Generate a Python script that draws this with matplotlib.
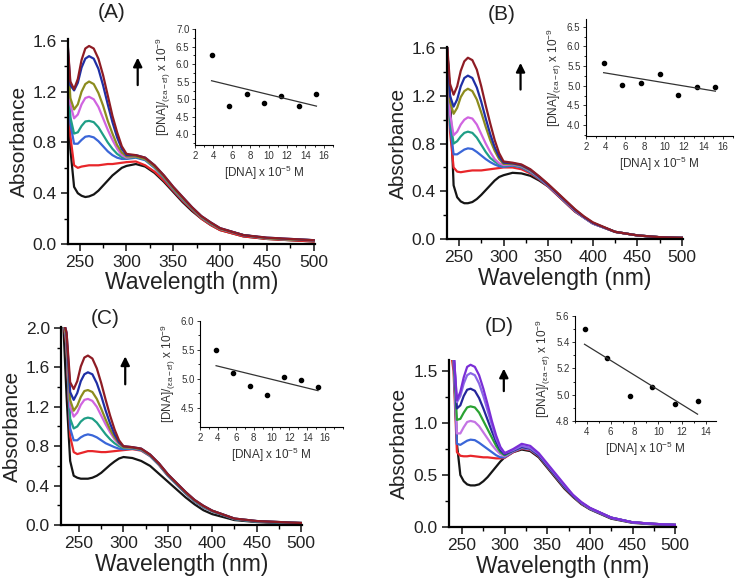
import numpy as np
import matplotlib
matplotlib.use('Agg')
import matplotlib.pyplot as plt
from matplotlib.ticker import MultipleLocator, FormatStrFormatter

plt.rcParams['font.family'] = ['Liberation Sans', 'DejaVu Sans']
plt.rcParams['mathtext.fontset'] = 'custom'
plt.rcParams['mathtext.rm'] = 'Liberation Sans'
plt.rcParams['mathtext.it'] = 'Liberation Sans:italic'

# wavelength grid (nm) used for all spectra
wl = [232, 236, 240, 244, 248, 252, 256, 260, 265, 270, 275, 280, 285, 290, 295,
      300, 310, 320, 330, 340, 350, 360, 370, 380, 390, 400, 425, 450, 475, 500]

# spectra, lowest curve (free complex) first
abs_A = [
    [1.8, 1.7, 0.75, 0.45, 0.40, 0.38, 0.37, 0.375, 0.39, 0.42, 0.46, 0.50, 0.54, 0.57, 0.60, 0.615, 0.63, 0.61, 0.56, 0.49, 0.41, 0.33, 0.26, 0.20, 0.15, 0.11, 0.06, 0.04, 0.03, 0.02],
    [1.8, 1.7, 0.85, 0.62, 0.60, 0.61, 0.615, 0.62, 0.62, 0.62, 0.625, 0.63, 0.63, 0.635, 0.64, 0.645, 0.65, 0.62, 0.57, 0.50, 0.42, 0.34, 0.27, 0.20, 0.15, 0.11, 0.06, 0.04, 0.03, 0.02],
    [1.8, 1.7, 0.95, 0.79, 0.79, 0.82, 0.845, 0.85, 0.84, 0.81, 0.77, 0.73, 0.70, 0.68, 0.67, 0.67, 0.68, 0.66, 0.60, 0.52, 0.43, 0.35, 0.28, 0.21, 0.16, 0.12, 0.07, 0.045, 0.035, 0.03],
    [1.8, 1.7, 1.0, 0.87, 0.88, 0.93, 0.965, 0.97, 0.96, 0.92, 0.86, 0.80, 0.75, 0.71, 0.685, 0.675, 0.685, 0.665, 0.605, 0.525, 0.435, 0.355, 0.28, 0.21, 0.16, 0.12, 0.07, 0.045, 0.035, 0.03],
    [1.8, 1.7, 1.1, 0.99, 1.02, 1.10, 1.15, 1.16, 1.14, 1.08, 0.99, 0.90, 0.82, 0.75, 0.70, 0.68, 0.69, 0.67, 0.61, 0.53, 0.44, 0.36, 0.285, 0.215, 0.165, 0.12, 0.07, 0.045, 0.035, 0.03],
    [1.8, 1.7, 1.15, 1.06, 1.10, 1.20, 1.26, 1.28, 1.26, 1.19, 1.09, 0.97, 0.87, 0.78, 0.72, 0.69, 0.69, 0.67, 0.61, 0.53, 0.44, 0.36, 0.285, 0.215, 0.165, 0.12, 0.07, 0.045, 0.035, 0.03],
    [1.8, 1.7, 1.25, 1.21, 1.27, 1.39, 1.46, 1.48, 1.46, 1.38, 1.25, 1.10, 0.96, 0.84, 0.75, 0.70, 0.70, 0.68, 0.62, 0.54, 0.45, 0.37, 0.29, 0.22, 0.17, 0.125, 0.07, 0.05, 0.04, 0.03],
    [1.8, 1.7, 1.28, 1.22, 1.30, 1.45, 1.54, 1.56, 1.54, 1.46, 1.33, 1.17, 1.01, 0.88, 0.77, 0.71, 0.70, 0.68, 0.62, 0.54, 0.45, 0.37, 0.29, 0.22, 0.17, 0.125, 0.07, 0.05, 0.04, 0.03],
]
abs_B = [
    [1.8, 1.7, 1.2, 0.45, 0.35, 0.315, 0.30, 0.30, 0.31, 0.335, 0.37, 0.41, 0.45, 0.49, 0.52, 0.535, 0.555, 0.55, 0.53, 0.49, 0.44, 0.37, 0.30, 0.23, 0.18, 0.13, 0.06, 0.03, 0.015, 0.01],
    [1.8, 1.7, 0.9, 0.60, 0.565, 0.56, 0.565, 0.57, 0.575, 0.575, 0.575, 0.58, 0.585, 0.59, 0.595, 0.60, 0.60, 0.585, 0.55, 0.50, 0.44, 0.37, 0.30, 0.23, 0.18, 0.13, 0.06, 0.03, 0.015, 0.01],
    [1.8, 1.7, 0.95, 0.71, 0.71, 0.73, 0.75, 0.76, 0.755, 0.73, 0.70, 0.67, 0.645, 0.625, 0.61, 0.605, 0.615, 0.60, 0.56, 0.505, 0.445, 0.375, 0.305, 0.235, 0.18, 0.13, 0.06, 0.03, 0.015, 0.01],
    [1.8, 1.7, 1.0, 0.80, 0.82, 0.86, 0.89, 0.90, 0.89, 0.85, 0.79, 0.73, 0.68, 0.65, 0.625, 0.615, 0.62, 0.605, 0.565, 0.51, 0.45, 0.38, 0.31, 0.24, 0.18, 0.13, 0.06, 0.03, 0.015, 0.01],
    [1.8, 1.7, 1.05, 0.87, 0.90, 0.96, 1.00, 1.02, 1.01, 0.96, 0.88, 0.80, 0.73, 0.67, 0.635, 0.62, 0.625, 0.61, 0.57, 0.515, 0.45, 0.38, 0.31, 0.24, 0.18, 0.13, 0.06, 0.03, 0.015, 0.01],
    [1.8, 1.7, 1.15, 1.05, 1.10, 1.19, 1.24, 1.26, 1.24, 1.17, 1.06, 0.94, 0.83, 0.74, 0.67, 0.63, 0.63, 0.615, 0.575, 0.52, 0.455, 0.385, 0.315, 0.245, 0.185, 0.135, 0.06, 0.03, 0.015, 0.01],
    [1.8, 1.7, 1.2, 1.11, 1.17, 1.28, 1.35, 1.37, 1.35, 1.27, 1.15, 1.01, 0.88, 0.77, 0.69, 0.64, 0.635, 0.62, 0.58, 0.52, 0.455, 0.385, 0.315, 0.245, 0.185, 0.135, 0.06, 0.03, 0.015, 0.01],
    [1.8, 1.7, 1.3, 1.21, 1.28, 1.41, 1.49, 1.52, 1.50, 1.42, 1.28, 1.12, 0.97, 0.83, 0.72, 0.65, 0.64, 0.625, 0.585, 0.525, 0.46, 0.39, 0.32, 0.25, 0.19, 0.14, 0.06, 0.03, 0.015, 0.01],
]
abs_C = [
    [2.1, 1.3, 0.65, 0.50, 0.48, 0.47, 0.47, 0.47, 0.48, 0.50, 0.53, 0.57, 0.61, 0.645, 0.675, 0.69, 0.68, 0.65, 0.60, 0.52, 0.44, 0.36, 0.28, 0.21, 0.15, 0.11, 0.05, 0.03, 0.02, 0.02],
    [2.1, 1.8, 0.9, 0.74, 0.72, 0.73, 0.74, 0.75, 0.75, 0.745, 0.74, 0.74, 0.745, 0.75, 0.755, 0.76, 0.77, 0.755, 0.70, 0.61, 0.50, 0.41, 0.32, 0.24, 0.18, 0.14, 0.06, 0.035, 0.025, 0.02],
    [2.1, 1.85, 0.98, 0.86, 0.86, 0.89, 0.91, 0.92, 0.91, 0.89, 0.86, 0.83, 0.81, 0.79, 0.775, 0.77, 0.775, 0.76, 0.70, 0.61, 0.50, 0.41, 0.32, 0.24, 0.18, 0.14, 0.06, 0.035, 0.025, 0.02],
    [2.1, 1.9, 1.08, 0.98, 1.00, 1.05, 1.08, 1.09, 1.08, 1.04, 0.98, 0.92, 0.87, 0.83, 0.80, 0.78, 0.78, 0.765, 0.705, 0.615, 0.505, 0.415, 0.325, 0.245, 0.185, 0.14, 0.06, 0.035, 0.025, 0.02],
    [2.1, 1.9, 1.2, 1.10, 1.14, 1.22, 1.27, 1.28, 1.26, 1.20, 1.11, 1.02, 0.94, 0.87, 0.82, 0.79, 0.785, 0.77, 0.71, 0.62, 0.51, 0.42, 0.33, 0.25, 0.19, 0.145, 0.065, 0.04, 0.03, 0.02],
    [2.1, 1.9, 1.27, 1.16, 1.21, 1.30, 1.36, 1.37, 1.35, 1.28, 1.18, 1.07, 0.97, 0.89, 0.83, 0.79, 0.785, 0.77, 0.71, 0.62, 0.51, 0.42, 0.33, 0.25, 0.19, 0.145, 0.065, 0.04, 0.03, 0.02],
    [2.1, 1.95, 1.35, 1.27, 1.34, 1.46, 1.53, 1.55, 1.53, 1.44, 1.31, 1.16, 1.03, 0.92, 0.84, 0.80, 0.79, 0.775, 0.715, 0.625, 0.515, 0.425, 0.335, 0.255, 0.195, 0.145, 0.065, 0.04, 0.03, 0.02],
    [2.1, 1.95, 1.45, 1.38, 1.46, 1.61, 1.70, 1.72, 1.69, 1.59, 1.44, 1.27, 1.11, 0.97, 0.86, 0.80, 0.79, 0.775, 0.715, 0.625, 0.515, 0.425, 0.335, 0.255, 0.195, 0.145, 0.065, 0.04, 0.03, 0.02],
]
abs_D = [
    [1.8, 1.75, 1.7, 0.8, 0.50, 0.44, 0.41, 0.40, 0.40, 0.41, 0.44, 0.48, 0.53, 0.58, 0.63, 0.67, 0.72, 0.745, 0.73, 0.67, 0.57, 0.47, 0.37, 0.29, 0.22, 0.17, 0.08, 0.04, 0.025, 0.02],
    [1.8, 1.75, 1.5, 0.72, 0.685, 0.68, 0.68, 0.685, 0.68, 0.675, 0.67, 0.67, 0.665, 0.66, 0.66, 0.665, 0.72, 0.755, 0.74, 0.68, 0.58, 0.48, 0.38, 0.295, 0.225, 0.175, 0.085, 0.045, 0.03, 0.02],
    [1.8, 1.75, 1.6, 0.80, 0.79, 0.81, 0.83, 0.84, 0.835, 0.81, 0.78, 0.75, 0.72, 0.69, 0.67, 0.67, 0.725, 0.76, 0.745, 0.685, 0.585, 0.485, 0.385, 0.30, 0.23, 0.175, 0.085, 0.045, 0.03, 0.02],
    [1.8, 1.75, 1.65, 0.90, 0.90, 0.96, 1.01, 1.02, 1.01, 0.97, 0.91, 0.85, 0.79, 0.74, 0.70, 0.68, 0.73, 0.765, 0.75, 0.69, 0.59, 0.49, 0.39, 0.30, 0.23, 0.18, 0.09, 0.045, 0.03, 0.02],
    [1.8, 1.75, 1.65, 1.03, 1.04, 1.10, 1.15, 1.16, 1.15, 1.10, 1.02, 0.94, 0.86, 0.78, 0.72, 0.69, 0.735, 0.77, 0.755, 0.69, 0.59, 0.49, 0.39, 0.30, 0.23, 0.18, 0.09, 0.045, 0.03, 0.02],
    [1.8, 1.75, 1.7, 1.14, 1.17, 1.26, 1.32, 1.33, 1.31, 1.24, 1.14, 1.03, 0.92, 0.82, 0.74, 0.70, 0.735, 0.77, 0.755, 0.69, 0.59, 0.49, 0.39, 0.30, 0.23, 0.18, 0.09, 0.045, 0.03, 0.02],
    [1.8, 1.75, 1.7, 1.20, 1.26, 1.38, 1.46, 1.48, 1.46, 1.38, 1.26, 1.12, 0.98, 0.85, 0.76, 0.71, 0.74, 0.78, 0.76, 0.70, 0.60, 0.50, 0.40, 0.31, 0.235, 0.18, 0.09, 0.045, 0.03, 0.02],
    [1.8, 1.75, 1.7, 1.22, 1.30, 1.44, 1.54, 1.56, 1.54, 1.46, 1.33, 1.18, 1.02, 0.88, 0.77, 0.71, 0.75, 0.80, 0.78, 0.71, 0.61, 0.51, 0.41, 0.31, 0.24, 0.185, 0.09, 0.045, 0.03, 0.02],
]

colors_abc = ['#151515', '#e8262a', '#3a66d8', '#1f9e86', '#d064e0', '#8c8c1e', '#1f2fa5', '#8e1c24']
colors_d = ['#151515', '#e8262a', '#3a66d8', '#c474e4', '#2aa232', '#25259a', '#8a66e6', '#7a2ed6']

# inset data: [DNA] x 1e-5 M  vs  [DNA]/(ea-ef) x 1e-9
dna = [3.8, 5.7, 7.6, 9.5, 11.4, 13.3, 15.2]
ins_A = [6.25, 4.82, 5.15, 4.90, 5.08, 4.82, 5.15]
ins_B = [5.58, 5.02, 5.06, 5.30, 4.77, 4.98, 4.97]
ins_C = [5.50, 5.11, 4.87, 4.73, 5.04, 4.98, 4.86]
dna_D = [3.8, 5.7, 7.6, 9.5, 11.4, 13.3]
ins_D = [5.50, 5.28, 4.99, 5.06, 4.93, 4.95]

W, H = 738, 578
fig = plt.figure(figsize=(W / 100, H / 100), dpi=100)


def box(l, b, r, t):
    return [l / W, 1 - b / H, (r - l) / W, (b - t) / H]


def main_panel(rect, spectra, cols, xlim, ylim, ymaj, ymin, arrow, label, label_xy):
    ax = fig.add_axes(rect)
    for y, c in zip(spectra, cols):
        ax.plot(wl, y, color=c, lw=1.6, solid_joinstyle='round')
    ax.set_xlim(*xlim)
    ax.set_ylim(*ylim)
    ax.set_xticks([250, 300, 350, 400, 450, 500])
    ax.xaxis.set_minor_locator(MultipleLocator(25))
    ax.yaxis.set_major_locator(MultipleLocator(ymaj))
    ax.yaxis.set_minor_locator(MultipleLocator(ymin))
    ax.yaxis.set_major_formatter(FormatStrFormatter('%.1f'))
    for s in ['top', 'right']:
        ax.spines[s].set_visible(False)
    for s in ['left', 'bottom']:
        ax.spines[s].set_linewidth(1.6)
    ax.tick_params(which='major', direction='out', length=5, width=1.2, labelsize=12.5, colors='#222222', pad=3)
    ax.tick_params(which='minor', direction='out', length=3, width=1.0)
    ax.set_xlabel('Wavelength (nm)', fontsize=16.5, color='#222222', labelpad=1)
    ax.set_ylabel('Absorbance', fontsize=15, color='#222222', labelpad=3)
    ax.annotate('', xy=(arrow[0], arrow[2]), xytext=(arrow[0], arrow[1]),
                arrowprops=dict(arrowstyle='-|>', color='black', lw=1.6, mutation_scale=13))
    fig.text(label_xy[0] / W, 1 - label_xy[1] / H, label, fontsize=15, ha='center', va='center', color='#222222')
    return ax


def inset(rect, x, y, xlim, ylim, xticks, ymaj, ymin):
    ax = fig.add_axes(rect)
    ax.plot(x, y, 'o', color='black', ms=3)
    k, b = np.polyfit(x, y, 1)
    ax.plot([x[0], x[-1]], [k * x[0] + b, k * x[-1] + b], color='#333333', lw=0.9)
    ax.set_xlim(*xlim)
    ax.set_ylim(*ylim)
    ax.set_xticks(xticks)
    ax.xaxis.set_minor_locator(MultipleLocator(1))
    ax.yaxis.set_major_locator(MultipleLocator(ymaj))
    ax.yaxis.set_minor_locator(MultipleLocator(ymin))
    ax.yaxis.set_major_formatter(FormatStrFormatter('%.1f'))
    for s in ['top', 'right']:
        ax.spines[s].set_visible(False)
    for s in ['left', 'bottom']:
        ax.spines[s].set_linewidth(0.8)
    ax.tick_params(which='major', direction='out', length=2.5, width=0.7, labelsize=7, colors='#333333', pad=1.5)
    ax.tick_params(which='minor', direction='out', length=1.5, width=0.6)
    ax.set_xlabel('[DNA] x 10$\\mathregular{^{-5}}$ M', fontsize=8.5, color='#333333', labelpad=2)
    ax.set_ylabel('[DNA]/$\\mathregular{_{(\\epsilon a-\\epsilon f)}}$ x 10$\\mathregular{^{-9}}$',
                  fontsize=8.5, color='#333333', labelpad=2)
    return ax


main_panel(box(68, 244, 315, 39), abs_A, colors_abc, (237.5, 501.5), (0, 1.615), 0.4, 0.2,
           (312, 1.23, 1.49), '(A)', (112, 13))
main_panel(box(447, 239, 683, 47), abs_B, colors_abc, (236.6, 501), (0, 1.61), 0.4, 0.2,
           (319, 1.23, 1.50), '(B)', (502, 15))
main_panel(box(61, 525, 302, 327), abs_C, colors_abc, (229.7, 501), (0, 2.01), 0.4, 0.2,
           (302, 1.40, 1.74), '(C)', (105, 319))
main_panel(box(449, 527, 676, 360), abs_D, colors_d, (234.7, 501), (0, 1.606), 0.5, 0.25,
           (299, 1.28, 1.55), '(D)', (499, 326))

inset(box(195, 145, 333, 29), dna, ins_A, (2, 17), (3.7, 7.0), [2, 4, 6, 8, 10, 12, 14, 16], 0.5, 0.25)
inset(box(586, 136, 733, 19), dna, ins_B, (2, 17), (3.72, 6.7), [2, 4, 6, 8, 10, 12, 14, 16], 0.5, 0.25)
inset(box(200, 427, 343, 321), dna, ins_C, (2, 18), (4.17, 6.0), [2, 4, 6, 8, 10, 12, 14, 16], 0.5, 0.25)
inset(box(575, 421, 716, 316), dna_D, ins_D, (3, 14.85), (4.8, 5.6), [4, 6, 8, 10, 12, 14], 0.2, 0.1)

fig.savefig('out.png', dpi=100)
